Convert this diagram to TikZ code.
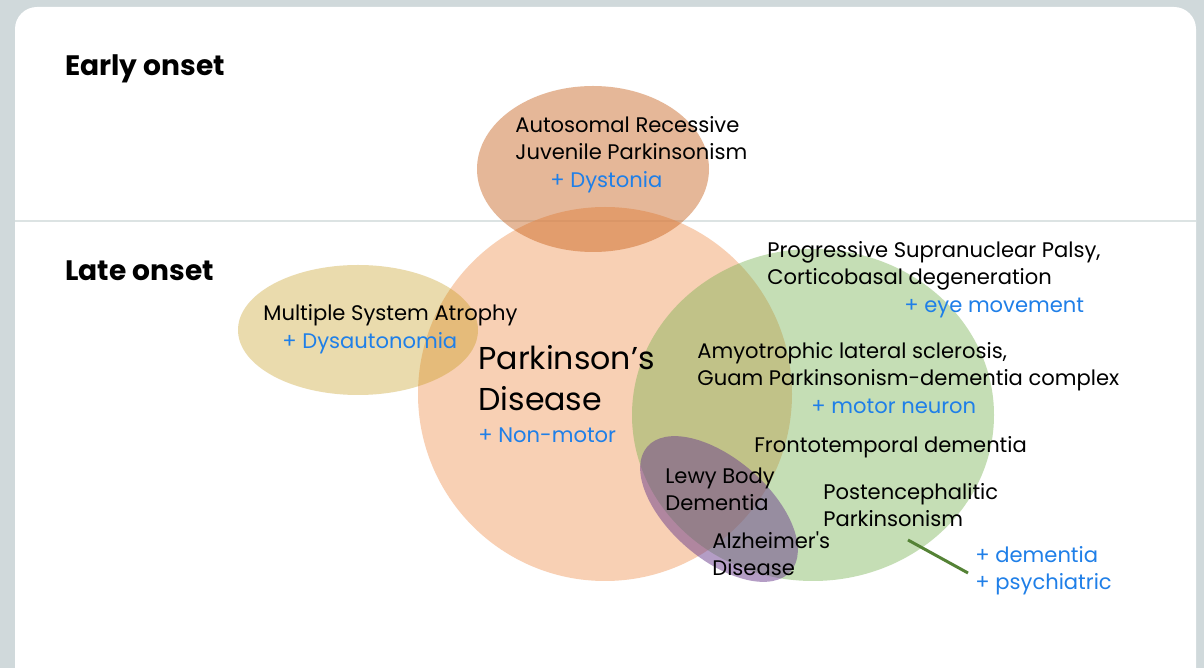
\documentclass[tikz,border=0pt]{standalone}
\usepackage{fontspec}
\setmainfont{Poppins}
\usepackage{xcolor}
\usetikzlibrary{positioning}

\definecolor{fon}{HTML}{D0D9DB}
\definecolor{divline}{HTML}{DCE3E3}
\definecolor{peach}{HTML}{F4B183}
\definecolor{rust}{HTML}{C55A11}
\definecolor{gold}{HTML}{BF9000}
\definecolor{leaf}{HTML}{70AD47}
\definecolor{plum}{HTML}{6A3D8C}
\definecolor{plusblue}{HTML}{1F7FE8}
\definecolor{stem}{HTML}{548235}

\begin{document}
\begin{tikzpicture}[x=0.02cm,y=-0.02cm,
  txt/.style={anchor=base west, inner sep=0, align=left, font=\fontsize{12}{15.9}\selectfont},
  plus/.style={txt, text=plusblue},
  head/.style={anchor=base west, inner sep=0, font=\fontsize{16}{20}\selectfont\bfseries},
  big/.style={txt, font=\fontsize{18}{23.9}\selectfont}]
\useasboundingbox (0,0) rectangle (1204,668);
\clip (0,0) rectangle (1204,668);
% фон
\fill[fon] (0,0) rectangle (1204,668);
\fill[white, rounded corners=0.44cm] (15,7) rectangle (1196,700);
\draw[divline, line width=1.4pt] (15,221) -- (1196,221);
% круги
\fill[peach, opacity=0.6] (605,394) circle [radius=187];
\fill[rust, opacity=0.43] (593,169) ellipse [x radius=116, y radius=83];
\fill[gold, opacity=0.32] (358,330) ellipse [x radius=120, y radius=65];
\fill[leaf, opacity=0.4] (813,415) ellipse [x radius=181, y radius=166];
\fill[plum, opacity=0.5, rotate around={-41:(719,509)}] (719,509) ellipse [x radius=95, y radius=50];
% подписи (базовая линия последней строки)
\node [head] (early) at (65,76) {Early onset};
\node [head] (late) at (65,281) {Late onset};
\node [txt] (arjp) at (515,160) {Autosomal Recessive\\Juvenile Parkinsonism};
\node [plus] (dyst) at (550,188) {+ Dystonia};
\node [txt] (msa) at (263,321) {Multiple System Atrophy};
\node [plus] (dysa) at (282,349) {+ Dysautonomia};
\node [big] (pd) at (478,411) {Parkinson’s\\Disease};
\node [plus] (nonmot) at (478,443) {+ Non-motor};
\node [txt] (psp) at (767,285) {Progressive Supranuclear Palsy,\\Corticobasal degeneration};
\node [plus] (eye) at (904,313) {+ eye movement};
\node [txt] (als) at (697,386) {Amyotrophic lateral sclerosis,\\Guam Parkinsonism-dementia complex};
\node [plus] (mn) at (811,414) {+ motor neuron};
\node [txt] (ftd) at (754,453) {Frontotemporal dementia};
\node [txt] (lbd) at (665,511) {Lewy Body\\Dementia};
\node [txt] (pep) at (823,527) {Postencephalitic\\Parkinsonism};
\node [txt] (ad) at (712,576) {Alzheimer\textquotesingle s\\Disease};
\node [plus] (dem) at (975,590) {+ dementia\\+ psychiatric};
% линия
\coordinate (pepend) at (908,540);
\coordinate (demend) at (968,573);
\draw [stem, line width=1.7pt] (pepend) -- (demend);
\end{tikzpicture}
\end{document}
